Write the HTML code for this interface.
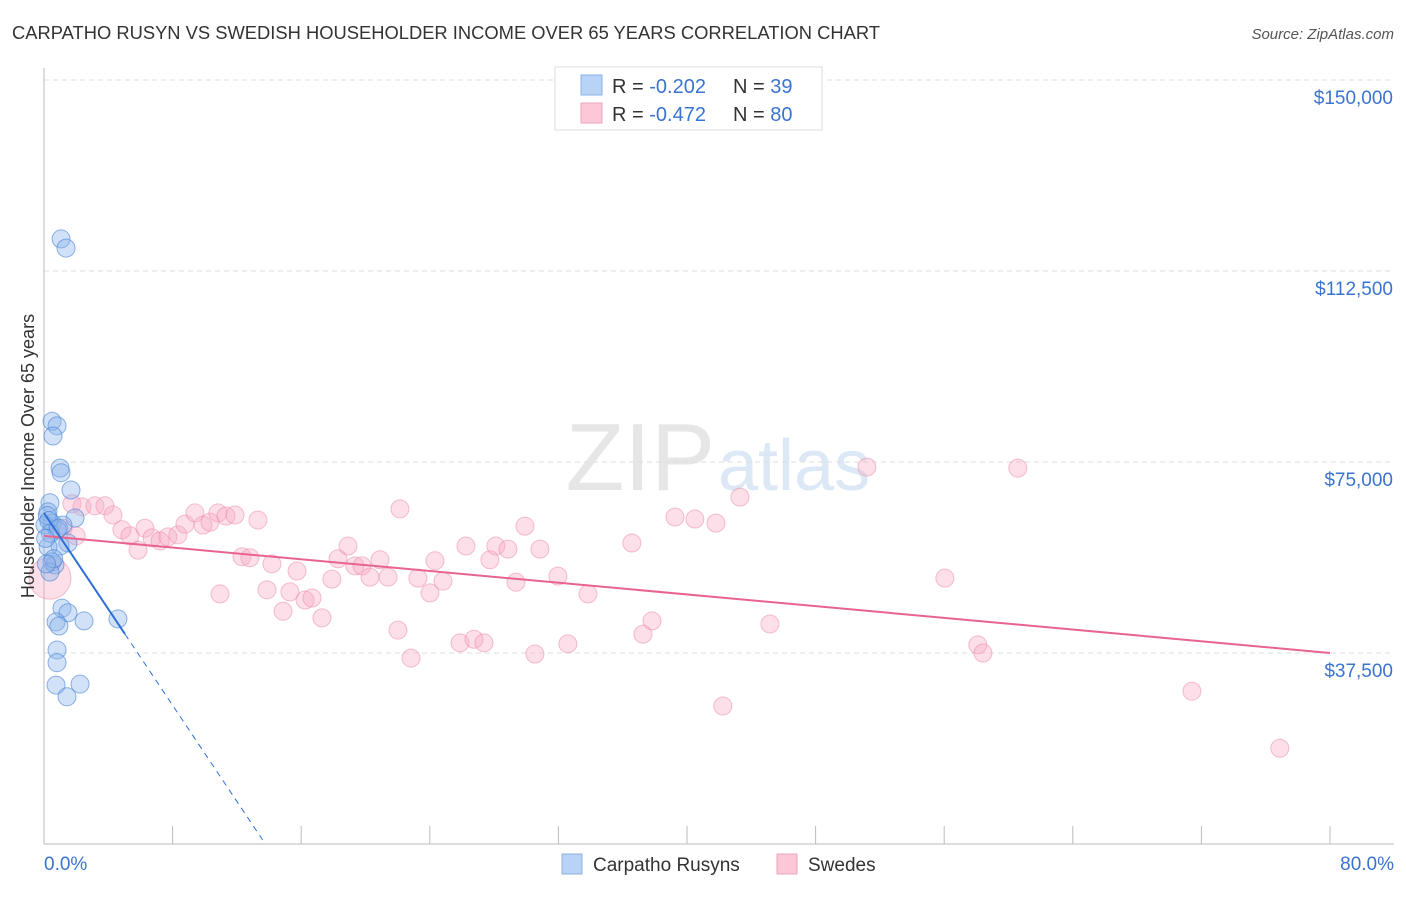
<!DOCTYPE html>
<html><head><meta charset="utf-8"><style>
body{margin:0;background:#fff;font-family:"Liberation Sans",sans-serif;}
svg text{font-family:"Liberation Sans",sans-serif;}
</style></head><body>
<svg id="chart" width="1406" height="892">
<text x="12" y="39" font-size="18" fill="#333" textLength="868" lengthAdjust="spacingAndGlyphs">CARPATHO RUSYN VS SWEDISH HOUSEHOLDER INCOME OVER 65 YEARS CORRELATION CHART</text>
<text x="1394" y="39" font-size="15" fill="#555" font-style="italic" text-anchor="end">Source: ZipAtlas.com</text>
<text x="715" y="490" font-size="96" fill="#e6e6e6" text-anchor="end" font-family="Liberation Serif">ZIP</text>
<text x="718" y="490" font-size="72" fill="#dce8f5">atlas</text>
<g id="grid"></g><g id="axes"></g><g id="marks"></g>
<text transform="translate(34,456) rotate(-90)" font-size="18" fill="#333" text-anchor="middle">Householder Income Over 65 years</text>
<g>
<rect x="555" y="67" width="267" height="63" fill="#fff" stroke="#ddd"/>
<rect x="581" y="75" width="21" height="20" fill="#b9d3f6" stroke="#8ab0e6"/>
<rect x="581" y="103" width="21" height="20" fill="#fcc8d8" stroke="#f0a3bb"/>
<text x="612" y="93" font-size="20" fill="#333">R = <tspan fill="#3a74d0">-0.202</tspan></text>
<text x="733" y="93" font-size="20" fill="#333">N = <tspan fill="#3a74d0">39</tspan></text>
<text x="612" y="121" font-size="20" fill="#333">R = <tspan fill="#3a74d0">-0.472</tspan></text>
<text x="733" y="121" font-size="20" fill="#333">N = <tspan fill="#3a74d0">80</tspan></text>
</g>
<g>
<rect x="562" y="854" width="20" height="20" fill="#b9d3f6" stroke="#8ab0e6"/>
<text x="593" y="871" font-size="19" fill="#333">Carpatho Rusyns</text>
<rect x="777" y="854" width="20" height="20" fill="#fcc8d8" stroke="#f0a3bb"/>
<text x="808" y="871" font-size="19" fill="#333">Swedes</text>
</g>
</svg>
<script>
const yTicks=[37500,75000,112500,150000];
const yTickLabels=["$37,500","$75,000","$112,500","$150,000"];
const xTicks=[0,8,16,24,32,40,48,56,64,72,80];
const blueX=[1.06,1.37,0.5,0.81,0.56,1.0,1.06,1.68,0.37,0.25,1.93,0.5,1.18,0.06,0.81,1.49,1.0,0.25,0.5,0.68,0.37,1.12,1.49,0.75,0.93,2.49,4.6,0.81,0.81,0.75,2.24,1.43,0.2,0.3,0.4,0.6,0.1,0.9,0.15];
const blueY=[118.8,117.0,83.0,82.1,80.1,73.8,72.9,69.5,67.0,65.2,64.0,63.0,62.6,62.6,61.7,59.1,58.5,58.3,55.4,54.8,53.4,46.3,45.4,43.6,42.8,43.8,44.2,38.1,35.6,31.2,31.4,28.9,64.5,63.5,61.0,56.0,60.0,62.0,55.0];
const pinkX=[1.74,2.36,3.17,3.79,4.29,4.85,5.35,5.85,6.28,6.72,7.22,7.71,8.33,8.77,9.39,9.89,10.33,10.82,10.95,11.32,11.88,12.32,12.81,13.31,13.87,14.18,14.87,15.30,15.74,16.24,16.67,17.29,17.91,18.29,18.91,19.34,19.78,20.28,20.90,21.40,22.02,22.14,22.83,23.26,24.01,24.32,24.82,25.88,26.25,26.75,27.37,27.74,28.11,28.86,29.36,29.92,30.54,30.85,31.97,32.59,33.84,36.57,37.26,37.82,39.25,40.49,41.80,42.23,43.29,45.16,51.19,56.04,58.09,58.41,60.58,71.41,76.88,1.2,2.0,0.37];
const pinkY=[66.8,66.2,66.4,66.4,64.6,61.7,60.5,57.7,62.0,60.1,59.5,60.3,60.7,62.8,65.0,62.6,63.2,65.0,49.1,64.4,64.6,56.4,56.2,63.6,49.9,55.0,45.7,49.5,53.6,47.9,48.3,44.4,52.0,56.0,58.5,54.6,54.6,52.4,55.8,52.4,42.0,65.8,36.5,52.2,49.3,55.6,51.6,39.5,58.5,40.2,39.5,55.8,58.5,57.9,51.4,62.4,37.3,57.9,52.6,39.3,49.1,59.1,41.2,43.8,64.2,63.8,63.0,27.1,68.1,43.2,74.0,52.2,39.1,37.5,73.8,30.0,18.8,62.0,60.5,52.2];
const pinkTrend=[60.5,37.5];
const blueTrend=[65.0,-4.72];
const NS="http://www.w3.org/2000/svg";
const sx=v=>44+v/80*1286;
const sy=v=>844-v/37.5*191;
function mk(tag,attrs,parent){const e=document.createElementNS(NS,tag);for(const k in attrs)e.setAttribute(k,attrs[k]);document.getElementById(parent).appendChild(e);return e;}
yTicks.forEach((t,i)=>{
 const y=sy(t/1000);
 const l=mk('line',{x1:44,x2:1394,y1:y,y2:y,stroke:'#ddd','stroke-dasharray':'5,4'},'grid');
 
 
 const tx=mk('text',{x:1393,y:y+24,'font-size':19,fill:'#3a74d0','text-anchor':'end'},'grid');
 tx.textContent=yTickLabels[i];
 
 
});
const ax=mk('line',{x1:44,x2:44,y1:68,y2:844,stroke:'#bbb'},'axes');


const bx=mk('line',{x1:44,x2:1394,y1:844,y2:844,stroke:'#bbb'},'axes');


xTicks.forEach(t=>{
 const tk=mk('line',{x1:sx(t),x2:sx(t),y1:826,y2:844,stroke:'#bbb'},'axes');
 
 
});
const xl0=mk('text',{x:44,y:870,'font-size':19,fill:'#3a74d0'},'axes');xl0.textContent='0.0%';


const xl1=mk('text',{x:1394,y:870,'font-size':19,fill:'#3a74d0','text-anchor':'end'},'axes');xl1.textContent='80.0%';


pinkX.forEach((x,i)=>{
 const c=mk('circle',{cx:sx(x),cy:sy(pinkY[i]),r:i===pinkX.length-1?21:9,fill:'rgba(248,170,195,0.38)',stroke:'rgba(236,140,172,0.55)','stroke-width':1},'marks');
 
 
});
blueX.forEach((x,i)=>{
 const c=mk('circle',{cx:sx(x),cy:sy(blueY[i]),r:9,fill:'rgba(140,180,235,0.4)',stroke:'rgba(70,130,215,0.6)','stroke-width':1},'marks');
 
 
});
const pl=mk('line',{x1:sx(0),y1:sy(pinkTrend[0]),x2:sx(80),y2:sy(pinkTrend[1]),stroke:'#e8648f','stroke-width':2},'marks');


const bEnd=5.04, bZero=13.6;
const bl=mk('line',{x1:sx(0),y1:sy(blueTrend[0]),x2:sx(bEnd),y2:sy(blueTrend[0]+blueTrend[1]*bEnd),stroke:'#2f6fd6','stroke-width':2},'marks');


const bd=mk('line',{x1:sx(bEnd),y1:sy(blueTrend[0]+blueTrend[1]*bEnd),x2:sx(bZero),y2:sy(blueTrend[0]+blueTrend[1]*bZero),stroke:'#2f6fd6','stroke-width':1,'stroke-dasharray':'6,5'},'marks');


</script>
</body></html>
